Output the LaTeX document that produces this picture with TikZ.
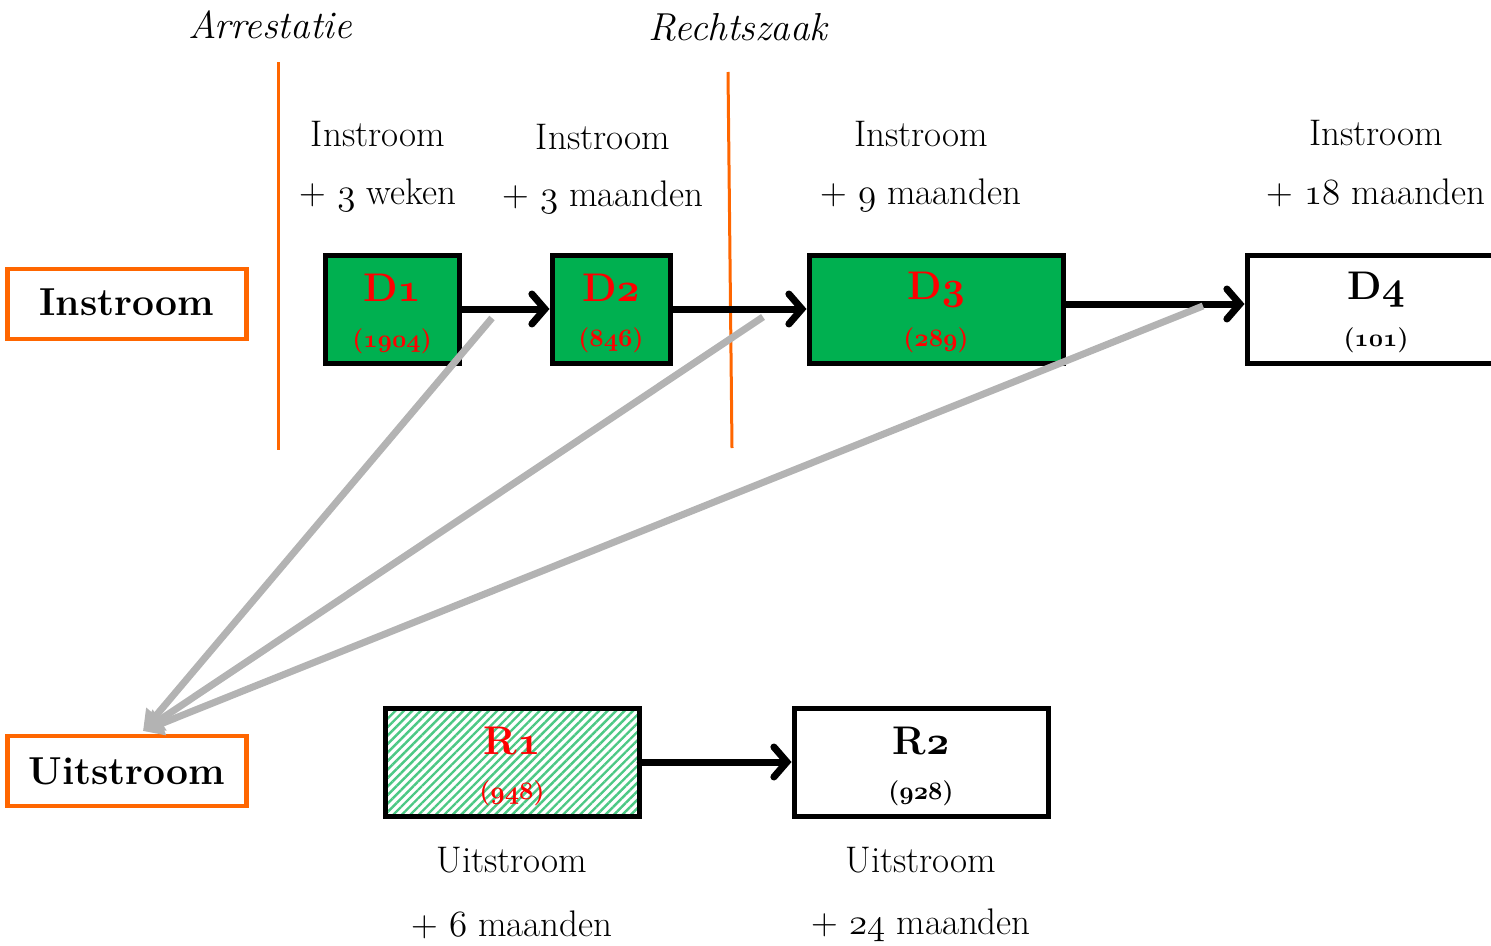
\documentclass[tikz,border=0pt]{standalone}
\usepackage{fix-cm}
\usetikzlibrary{arrows.meta,patterns.meta}
\definecolor{myorange}{HTML}{FF6600}
\definecolor{mygreen}{HTML}{00B050}
\definecolor{mygray}{HTML}{B3B3B3}
\definecolor{myred}{HTML}{FF0000}
\newcommand{\os}[1]{{\usefont{OML}{cmm}{m}{it}#1}}
\newcommand{\osb}[1]{{\usefont{OML}{cmm}{b}{it}#1}}
\begin{document}
\begin{tikzpicture}[x=1pt,y=-1pt,
 lab/.style={font=\fontsize{37}{44}\selectfont, inner sep=0pt},
 hdr/.style={font=\fontsize{39}{46}\selectfont\itshape, inner sep=0pt},
 ttl/.style={font=\fontsize{39}{46}\selectfont\bfseries, inner sep=0pt},
 dname/.style={font=\fontsize{40}{46}\selectfont\bfseries, inner sep=0pt},
 dnum/.style={font=\fontsize{25}{30}\selectfont\bfseries, inner sep=0pt},
 obox/.style={draw=myorange, line width=4.5pt, minimum width=239pt, minimum height=70pt, inner sep=0pt},
 dbox/.style={draw=black, line width=5pt, minimum height=108pt, inner sep=0pt},
 flow/.style={line width=7pt, line cap=round, line join=round, -{Straight Barb[length=13pt,width=30pt,line width=7pt,line cap=round]}},
 outflow/.style={draw=mygray, line width=7pt, -{Triangle[length=20pt,width=24pt]}},
 sep/.style={draw=myorange, line width=3pt}]
\useasboundingbox (0,0) rectangle (1491,945);

% headers
\node[hdr] (arr) at (270,25) {Arrestatie};
\node[hdr] (rech) at (738,27) {Rechtszaak};
\coordinate (s1a) at (278,62);
\coordinate (s1b) at (278,450);
\coordinate (s2a) at (728,72);
\coordinate (s2b) at (732,448);
\draw[sep] (s1a) -- (s1b);
\draw[sep] (s2a) -- (s2b);

% side boxes
\node[obox] (in) at (127,304) {};
\node[ttl] (intxt) at (127,302) {Instroom};
\node[obox] (uit) at (127,771) {};
\node[ttl] (uittxt) at (127,771) {Uitstroom};

% top labels
\node[lab] (l1a) at (378,134) {Instroom};
\node[lab] (l1b) at (378,195) {+ \os{3} weken};
\node[lab] (l2a) at (603,137) {Instroom};
\node[lab] (l2b) at (603,197) {+ \os{3} maanden};
\node[lab] (l3a) at (921,134) {Instroom};
\node[lab] (l3b) at (921,195) {+ \os{9} maanden};
\node[lab] (l4a) at (1376,133) {Instroom};
\node[lab] (l4b) at (1376,193) {+ \os{18} maanden};

% D boxes
\node[dbox, fill=mygreen, minimum width=134pt] (d1) at (392,309) {};
\node[dbox, fill=mygreen, minimum width=118pt] (d2) at (611,309) {};
\node[dbox, fill=mygreen, minimum width=254pt] (d3) at (936,309) {};
\node[dbox, fill=white, minimum width=270pt] (d4) at (1382,309) {};
\node[dname, text=myred] (d1n) at (392,288) {D\osb{1}};
\node[dnum, text=myred] (d1c) at (392,341) {(\osb{1904})};
\node[dname, text=myred] (d2n) at (611,288) {D\osb{2}};
\node[dnum, text=myred] (d2c) at (611,340) {(\osb{846})};
\node[dname, text=myred] (d3n) at (936,290) {D\osb{3}};
\node[dnum, text=myred] (d3c) at (936,340) {(\osb{289})};
\node[dname] (d4n) at (1376,290) {D\osb{4}};
\node[dnum] (d4c) at (1376,340) {(\osb{101})};

\draw[flow] (d1.east) -- (d2.west);
\draw[flow] (d2.east) -- (d3.west);
\draw[flow] ([yshift=5pt]d3.east) -- ([yshift=5pt]d4.west);

% R boxes
\node[dbox, fill=white, pattern={Lines[angle=45,distance=6pt,line width=2.4pt]}, pattern color=mygreen!70, minimum width=254pt] (r1) at (512,762) {};
\node[dbox, fill=white, minimum width=254pt] (r2) at (921,762) {};
\node[dname, text=myred] (r1n) at (512,741) {R\osb{1}};
\node[dnum, text=myred] (r1c) at (512,793) {(\osb{948})};
\node[dname] (r2n) at (921,741) {R\osb{2}};
\node[dnum] (r2c) at (921,793) {(\osb{928})};
\draw[flow] (r1.east) -- (r2.west);

\node[lab] (u1a) at (512,860) {Uitstroom};
\node[lab] (u1b) at (512,925) {+ \os{6} maanden};
\node[lab] (u2a) at (921,860) {Uitstroom};
\node[lab] (u2b) at (921,925) {+ \os{24} maanden};

% outflow arrows
\coordinate (g1) at (492,318);
\coordinate (g2) at (763,317);
\coordinate (g3) at (1203,306);
\coordinate (gt) at (143,731);
\draw[outflow] (g1) -- (gt);
\draw[outflow] (g2) -- (gt);
\draw[outflow] (g3) -- (gt);
\end{tikzpicture}
\end{document}
